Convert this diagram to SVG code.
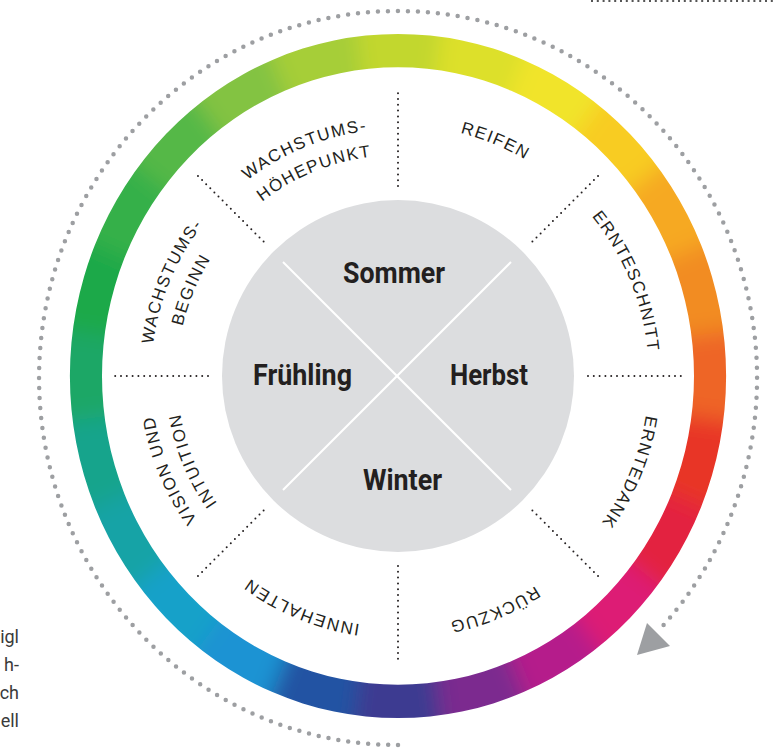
<svg xmlns="http://www.w3.org/2000/svg" xmlns:xlink="http://www.w3.org/1999/xlink" width="776" height="752" viewBox="0 0 776 752">
<style>
.lbl{font-family:"Liberation Sans",Arial,sans-serif;font-size:17px;letter-spacing:1.5px;fill:#231f20;text-anchor:middle}
.season{font-family:"Liberation Sans Narrow","Roboto",sans-serif;font-weight:bold;font-size:30px;fill:#231f20;text-anchor:middle}
.side{font-family:"Liberation Sans Narrow","Roboto",sans-serif;font-size:18px;fill:#3a3a3a;text-anchor:end}
.dots{fill:none;stroke:#231f20;stroke-width:2;stroke-dasharray:0 5.8;stroke-linecap:round}
.cross{stroke:#ffffff;stroke-width:2}
</style>
<defs>
<circle id="seg" cx="0" cy="0" r="312" fill="none" stroke-width="80" stroke-dasharray="84 2000"/>
<filter id="soft" x="-20%" y="-20%" width="140%" height="140%"><feGaussianBlur stdDeviation="10"/></filter>
<clipPath id="ringClip"><path clip-rule="evenodd" d="M0,-328 A328,328 0 1 1 0,328 A328,328 0 1 1 0,-328 Z M0,-296 A296,296 0 1 1 0,296 A296,296 0 1 1 0,-296 Z"/></clipPath>
<path id="r251" d="M398,125 A251,251 0 1 1 398,627 A251,251 0 1 1 398,125"/>
<path id="r247" d="M398,129 A247,247 0 1 1 398,623 A247,247 0 1 1 398,129"/>
<path id="r221" d="M398,155 A221,221 0 1 1 398,597 A221,221 0 1 1 398,155"/>
</defs>
<rect width="776" height="752" fill="#ffffff"/>

<g id="ring" transform="translate(398,376) scale(1,1.043)">
<g clip-path="url(#ringClip)">
<g filter="url(#soft)">
<use xlink:href="#seg" stroke="#c2d72f" transform="rotate(-97.5)"/>
<use xlink:href="#seg" stroke="#dde02b" transform="rotate(-82.5)"/>
<use xlink:href="#seg" stroke="#f1e42a" transform="rotate(-67.5)"/>
<use xlink:href="#seg" stroke="#f8cc22" transform="rotate(-52.5)"/>
<use xlink:href="#seg" stroke="#f6a923" transform="rotate(-37.5)"/>
<use xlink:href="#seg" stroke="#f28c23" transform="rotate(-22.5)"/>
<use xlink:href="#seg" stroke="#ee6525" transform="rotate(-7.5)"/>
<use xlink:href="#seg" stroke="#e83428" transform="rotate(7.5)"/>
<use xlink:href="#seg" stroke="#e32240" transform="rotate(22.5)"/>
<use xlink:href="#seg" stroke="#dd1b74" transform="rotate(37.5)"/>
<use xlink:href="#seg" stroke="#b51f8b" transform="rotate(52.5)"/>
<use xlink:href="#seg" stroke="#7b2a8f" transform="rotate(67.5)"/>
<use xlink:href="#seg" stroke="#3d3a91" transform="rotate(82.5)"/>
<use xlink:href="#seg" stroke="#2453a3" transform="rotate(97.5)"/>
<use xlink:href="#seg" stroke="#1a93d3" transform="rotate(112.5)"/>
<use xlink:href="#seg" stroke="#19a1c9" transform="rotate(127.5)"/>
<use xlink:href="#seg" stroke="#17a3a6" transform="rotate(142.5)"/>
<use xlink:href="#seg" stroke="#17a48c" transform="rotate(157.5)"/>
<use xlink:href="#seg" stroke="#1ca766" transform="rotate(172.5)"/>
<use xlink:href="#seg" stroke="#1fa94a" transform="rotate(187.5)"/>
<use xlink:href="#seg" stroke="#34b04a" transform="rotate(202.5)"/>
<use xlink:href="#seg" stroke="#55b847" transform="rotate(217.5)"/>
<use xlink:href="#seg" stroke="#83c342" transform="rotate(232.5)"/>
<use xlink:href="#seg" stroke="#a6ce38" transform="rotate(247.5)"/>
</g>
</g>
</g>

<g id="hub">
<circle cx="398" cy="376" r="176" fill="#dcdddf"/>
<line class="cross" x1="283" y1="262" x2="511" y2="490"/>
<line class="cross" x1="511" y1="262" x2="283" y2="490"/>
</g>

<g id="sommer"><text class="season" x="394" y="283" textLength="102" lengthAdjust="spacingAndGlyphs">Sommer</text></g>
<g id="fruehling"><text class="season" x="302.5" y="385" textLength="99" lengthAdjust="spacingAndGlyphs">Frühling</text></g>
<g id="herbst"><text class="season" x="489" y="385" textLength="78" lengthAdjust="spacingAndGlyphs">Herbst</text></g>
<g id="winter"><text class="season" x="402.5" y="490" textLength="79" lengthAdjust="spacingAndGlyphs">Winter</text></g>

<g id="reifen"><text class="lbl"><textPath xlink:href="#r251" startOffset="98.6">REIFEN</textPath></text></g>
<g id="ernteschnitt"><text class="lbl"><textPath xlink:href="#r251" startOffset="295.7">ERNTESCHNITT</textPath></text></g>
<g id="erntedank"><text class="lbl"><textPath xlink:href="#r251" startOffset="492.8">ERNTEDANK</textPath></text></g>
<g id="rueckzug"><text class="lbl"><textPath xlink:href="#r251" startOffset="690">RÜCKZUG</textPath></text></g>
<g id="innehalten"><text class="lbl"><textPath xlink:href="#r251" startOffset="887.1">INNEHALTEN</textPath></text></g>
<g id="vision"><text class="lbl"><textPath xlink:href="#r247" startOffset="1067">VISION UND</textPath></text><text class="lbl"><textPath xlink:href="#r221" startOffset="954.7">INTUITION</textPath></text></g>
<g id="wachstumsbeginn"><text class="lbl"><textPath xlink:href="#r247" startOffset="1261">WACHSTUMS-</textPath></text><text class="lbl"><textPath xlink:href="#r221" startOffset="1128.2">BEGINN</textPath></text></g>
<g id="hoehepunkt"><text class="lbl"><textPath xlink:href="#r247" startOffset="1455">WACHSTUMS-</textPath></text><text class="lbl"><textPath xlink:href="#r221" startOffset="1301.8">HÖHEPUNKT</textPath></text></g>

<g id="connectors">
<line class="dots" x1="398" y1="186" x2="398" y2="92"/>
<line class="dots" x1="532.4" y1="241.6" x2="598.8" y2="175.2"/>
<line class="dots" x1="588" y1="376" x2="682" y2="376"/>
<line class="dots" x1="532.4" y1="510.4" x2="598.8" y2="576.8"/>
<line class="dots" x1="398" y1="566" x2="398" y2="660"/>
<line class="dots" x1="263.6" y1="510.4" x2="197.2" y2="576.8"/>
<line class="dots" x1="208" y1="376" x2="114" y2="376"/>
<line class="dots" x1="263.6" y1="241.6" x2="197.2" y2="175.2"/>
<path d="M398,745 A359,367 0 1 1 660.6,628.3" fill="none" stroke="#9d9fa2" stroke-width="4.5" stroke-dasharray="0 10" stroke-linecap="round"/>
<polygon points="637,655 647,623 670,646" fill="#9d9fa2"/>
<line x1="591" y1="1" x2="776" y2="1" stroke="#555" stroke-width="2" stroke-dasharray="2 3.8"/>
</g>

<g id="sidetext">
<text class="side" x="19" y="643">igl</text>
<text class="side" x="19" y="671">h-</text>
<text class="side" x="19" y="699">ch</text>
<text class="side" x="19" y="727">ell</text>
</g>
</svg>
